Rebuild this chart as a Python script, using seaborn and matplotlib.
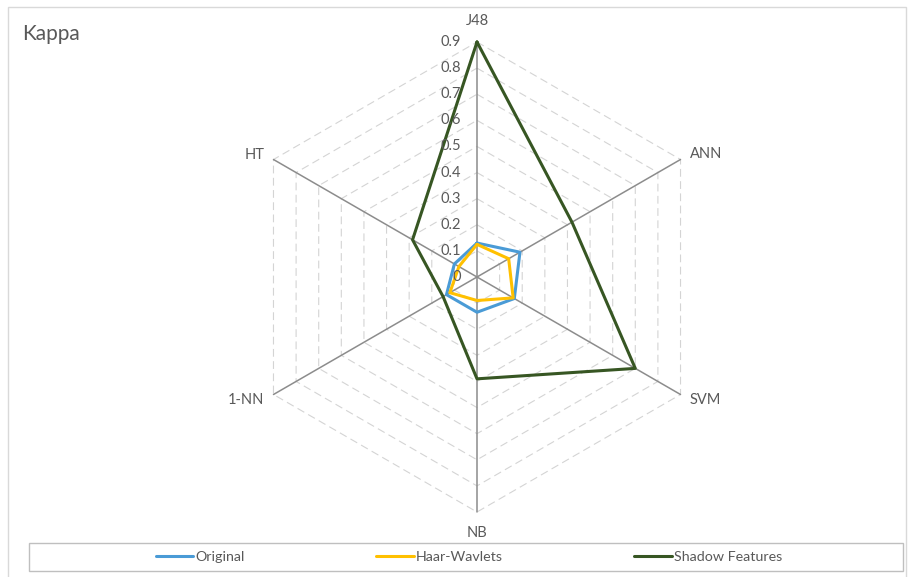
import numpy as np
import pandas as pd
import matplotlib
matplotlib.use("Agg")
import matplotlib.pyplot as plt
import matplotlib.patches as patches
from matplotlib.lines import Line2D
import seaborn as sns

# Kappa per classifier for each feature set
categories = ["J48", "ANN", "SVM", "NB", "1-NN", "HT"]
original = [0.13, 0.19, 0.165, 0.135, 0.135, 0.10]
haar_wavlets = [0.125, 0.14, 0.16, 0.09, 0.12, 0.08]
shadow_features = [0.90, 0.42, 0.70, 0.39, 0.15, 0.285]
series_names = ["Original", "Haar-Wavlets", "Shadow Features"]
ring_values = [0.1, 0.2, 0.3, 0.4, 0.5, 0.6, 0.7, 0.8, 0.9]
radial_labels = ["0", "0.1", "0.2", "0.3", "0.4", "0.5", "0.6", "0.7", "0.8", "0.9"]

colors = ["#4A9BD6", "#FFC000", "#375623"]
text_color = "#595959"

sns.set_style("white")
plt.rcParams["font.family"] = ["Lato", "DejaVu Sans"]

W, H = 913, 577
fig = plt.figure(figsize=(W / 100, H / 100), dpi=100)

# square polar area centred on the hexagon
cx, cy, R = 477, 300, 235
ax = fig.add_axes([(cx - R) / W, (cy - R) / H, 2 * R / W, 2 * R / H], projection="polar")
ax.set_theta_zero_location("N")
ax.set_theta_direction(-1)
rmax = ring_values[-1]
ax.set_ylim(0, rmax)
ax.grid(False)
ax.spines["polar"].set_visible(False)
ax.set_xticks([])
ax.set_yticks([])
ax.patch.set_alpha(0)

n = len(categories)
angles = np.linspace(0, 2 * np.pi, n, endpoint=False)
closed = np.append(angles, angles[0])

# dashed hexagonal rings
for r in ring_values:
    ax.plot(closed, [r] * (n + 1), color="#D4D4D4", lw=0.8,
            linestyle=(0, (7, 4)), clip_on=False, zorder=1)

# spokes
for a in angles:
    ax.plot([a, a], [0, rmax], color="#8C8C8C", lw=1.1, clip_on=False, zorder=2)

# series polygons
long_rows = []
for name, vals in zip(series_names, [original, haar_wavlets, shadow_features]):
    for i in range(n + 1):
        long_rows.append({"angle": closed[i], "kappa": vals[i % n], "series": name,
                          "order": i})
df = pd.DataFrame(long_rows)

for name, col in zip(series_names, colors):
    sub = df[df["series"] == name]
    sns.lineplot(data=sub, x="angle", y="kappa", sort=False, estimator=None,
                 color=col, lw=2.2, ax=ax, legend=False, zorder=3)
    ax.lines[-1].set_clip_on(False)

ax.set_xlabel("")
ax.set_ylabel("")
ax.set_ylim(0, rmax)

# category labels around the hexagon
label_offsets = {
    "J48": ((0, 21), "center"),
    "ANN": ((9, 5), "left"),
    "SVM": ((9, -5), "left"),
    "NB": ((0, -21), "center"),
    "1-NN": ((-9, -5), "right"),
    "HT": ((-9, 5), "right"),
}
for a, cat in zip(angles, categories):
    off, ha = label_offsets[cat]
    ax.annotate(cat, xy=(a, rmax), xytext=off, textcoords="offset pixels",
                ha=ha, va="center", fontsize=10.5, color=text_color,
                annotation_clip=False)

# radial value labels along the first spoke
for i, lab in enumerate(radial_labels):
    ax.annotate(lab, xy=(0, i * 0.1), xytext=(-16, 0), textcoords="offset pixels",
                ha="right", va="center", fontsize=10.5, color=text_color,
                annotation_clip=False, zorder=4)

# chart title
fig.text(22 / W, 1 - 34 / H, "Kappa", ha="left", va="center",
         fontsize=15, color=text_color)

# outer chart border
fig.patches.append(patches.Rectangle((8 / W, -0.02), (906 - 8) / W, (570 / H) + 0.02,
                                     transform=fig.transFigure, fill=False,
                                     edgecolor="#D9D9D9", lw=1.0))
# legend frame
fig.patches.append(patches.Rectangle((29 / W, 6 / H), (903 - 29) / W, 28 / H,
                                     transform=fig.transFigure, fill=False,
                                     edgecolor="#BFBFBF", lw=1.0))

handles = [Line2D([], [], color=c, lw=2.2) for c in colors]
leg = fig.legend(handles, series_names, loc="center",
                 bbox_to_anchor=(469 / W, (577 - 557) / H), ncol=3, frameon=False,
                 handlelength=2.6, handletextpad=0.15, columnspacing=9.2,
                 fontsize=10.3)
for t in leg.get_texts():
    t.set_color(text_color)

fig.savefig("out.png", dpi=100)
